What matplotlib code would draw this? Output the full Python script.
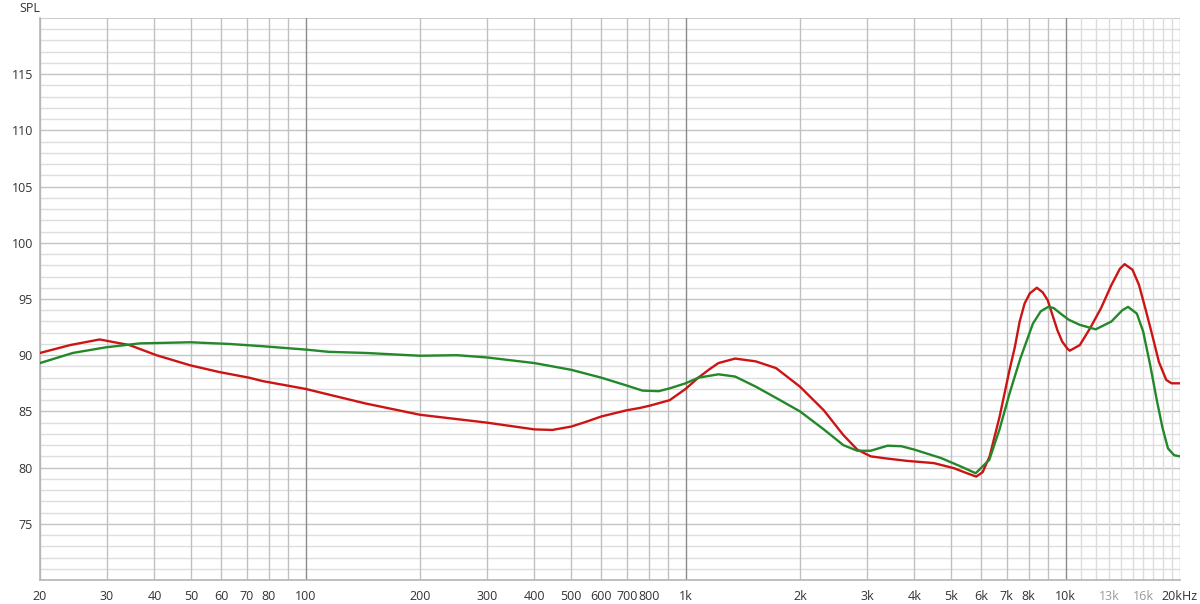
import numpy as np
import matplotlib
matplotlib.use("Agg")
import matplotlib.pyplot as plt

plt.rcParams["font.family"] = ["Open Sans", "DejaVu Sans"]

# Curva vermelha (Hz, dB SPL)
red_freq = [20, 24, 28.7, 34.4, 40.5, 49.7, 59.3, 71, 77, 100, 115, 144, 200, 300,
            400, 446, 500, 550, 600, 700, 756, 803, 908, 1000, 1080, 1150, 1220,
            1350, 1530, 1730, 2000, 2310, 2600, 2830, 3070, 3400, 3820, 4500, 5080,
            5500, 5820, 6050, 6310, 6700, 7120, 7350, 7570, 7800, 8050, 8400, 8700,
            8970, 9250, 9520, 9800, 10100, 10250, 10900, 11600, 12400, 13200, 13900,
            14300, 15000, 15600, 16200, 16900, 17600, 18400, 19000, 20000]
red_spl = [90.2, 90.9, 91.4, 90.9, 90.0, 89.1, 88.5, 88.0, 87.7, 87.0, 86.5, 85.7,
           84.7, 84.0, 83.4, 83.35, 83.65, 84.1, 84.55, 85.1, 85.3, 85.5, 86.0,
           87.0, 88.0, 88.7, 89.3, 89.7, 89.45, 88.85, 87.2, 85.1, 82.9, 81.6,
           81.0, 80.8, 80.6, 80.4, 79.95, 79.5, 79.2, 79.6, 81.0, 84.5, 88.7,
           90.7, 93.0, 94.6, 95.5, 96.0, 95.6, 94.9, 93.5, 92.2, 91.2, 90.6, 90.4,
           90.9, 92.4, 94.2, 96.25, 97.7, 98.1, 97.6, 96.25, 94.2, 91.8, 89.4,
           87.8, 87.5, 87.5]

# Curva verde
green_freq = [20, 24.4, 29.8, 36.6, 49.7, 63, 77, 100, 115, 144, 200, 250, 300, 400,
              500, 600, 700, 770, 850, 908, 1000, 1080, 1220, 1350, 1530, 1730,
              2000, 2310, 2600, 2830, 3070, 3400, 3700, 4000, 4700, 5300, 5800,
              6300, 6700, 7120, 7600, 8200, 8600, 9000, 9300, 9700, 10200, 10900,
              12000, 13200, 14100, 14600, 15400, 16000, 16700, 17400, 18000, 18600,
              19300, 20000]
green_spl = [89.3, 90.2, 90.7, 91.05, 91.15, 91.0, 90.8, 90.5, 90.3, 90.2, 89.95,
             90.0, 89.8, 89.3, 88.7, 88.0, 87.3, 86.85, 86.8, 87.05, 87.5, 88.0,
             88.3, 88.1, 87.2, 86.2, 85.0, 83.4, 82.0, 81.5, 81.5, 81.95, 81.9,
             81.6, 80.85, 80.1, 79.5, 80.7, 83.4, 86.6, 89.7, 92.8, 93.9, 94.3,
             94.2, 93.7, 93.15, 92.7, 92.3, 93.0, 94.0, 94.3, 93.7, 92.1, 89.1,
             85.9, 83.5, 81.7, 81.1, 81.0]

x_ticks = [20, 30, 40, 50, 60, 70, 80, 100, 200, 300, 400, 500, 600, 700, 800,
           1000, 2000, 3000, 4000, 5000, 6000, 7000, 8000, 10000, 13000, 16000, 20000]
x_labels = ["20", "30", "40", "50", "60", "70", "80", "100", "200", "300", "400",
            "500", "600", "700", "800", "1k", "2k", "3k", "4k", "5k", "6k", "7k",
            "8k", "10k", "13k", "16k", "20kHz"]
y_ticks = [75, 80, 85, 90, 95, 100, 105, 110, 115]

fig = plt.figure(figsize=(12, 6.04), dpi=100)
ax = fig.add_axes([40 / 1200, 1 - 580 / 604, 1140 / 1200, 562 / 604])
ax.set_xscale("log")
ax.set_xlim(20, 20000)
ax.set_ylim(70, 120)

# Grade horizontal: 1 dB fina, 5 dB mais escura
for v in range(71, 120):
    cor = "#c4c4c4" if v % 5 == 0 else "#dedede"
    ax.axhline(v, color=cor, lw=1.0, zorder=0)
ax.axhline(120, color="#c4c4c4", lw=1.2, zorder=0)

# Grade vertical
for dec in [10, 100, 1000]:
    for m in range(2, 10):
        ax.axvline(dec * m, color="#c0c0c0", lw=1.0, zorder=0)
for f in [100, 1000, 10000]:
    ax.axvline(f, color="#8a8a8a", lw=1.0, zorder=0)
for k in range(11, 21):
    ax.axvline(k * 1000, color="#dcdcdc" if k < 20 else "#c0c0c0", lw=1.0, zorder=0)

ax.plot(red_freq, red_spl, color="#cc1414", lw=1.7, zorder=3,
        solid_joinstyle="round", antialiased=True)
ax.plot(green_freq, green_spl, color="#23882a", lw=1.7, zorder=4,
        solid_joinstyle="round", antialiased=True)

for s in ["top", "right"]:
    ax.spines[s].set_visible(False)
for s in ["left", "bottom"]:
    ax.spines[s].set_color("#b4b4b4")
    ax.spines[s].set_linewidth(1.2)

ax.set_xticks(x_ticks)
ax.set_xticklabels(x_labels)
ax.xaxis.set_minor_locator(matplotlib.ticker.NullLocator())
ax.set_yticks(y_ticks)
ax.tick_params(length=0, labelsize=9, colors="#333333", pad=5)
ax.tick_params(axis="x", pad=7)
for lab in ax.get_xticklabels():
    if lab.get_text() in ("13k", "16k"):
        lab.set_color("#9a9a9a")

fig.text(19 / 1200, 1 - 8 / 604, "SPL", fontsize=9, color="#333333",
         va="center", ha="left")

fig.savefig("out.png", dpi=100, facecolor="white")
